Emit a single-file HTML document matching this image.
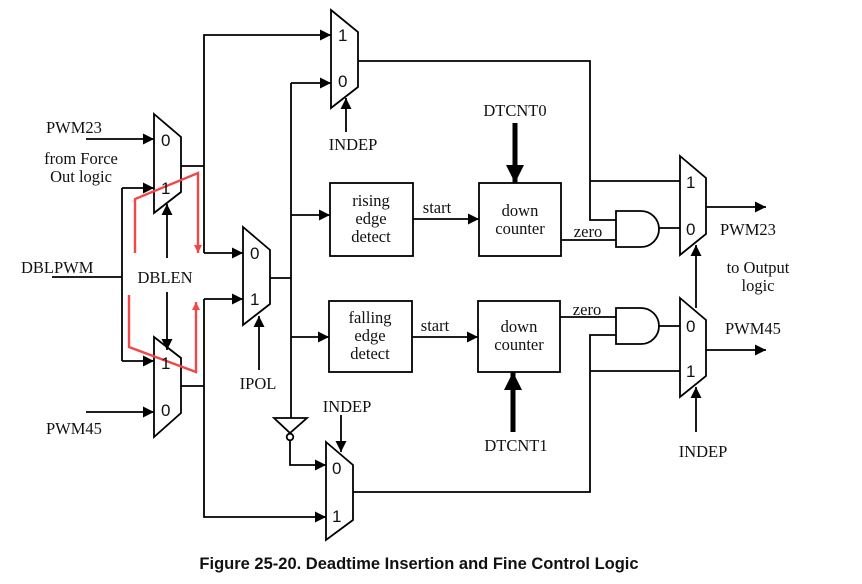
<!DOCTYPE html>
<html><head><style>
html,body{margin:0;padding:0;background:#fff;}
svg{display:block;}
.s{font-family:"Liberation Serif",serif;font-size:16.5px;fill:#111;}
.n{font-family:"Liberation Sans",sans-serif;font-size:17px;fill:#111;}
</style></head><body>
<svg width="862" height="584" viewBox="0 0 862 584" xmlns="http://www.w3.org/2000/svg">
<defs>
<marker id="a" viewBox="0 0 10 10" refX="10" refY="5" markerWidth="16" markerHeight="11" markerUnits="userSpaceOnUse" orient="auto"><path d="M0,0L10,5L0,10z" fill="#000"/></marker>
<marker id="b" viewBox="0 0 10 10" refX="10" refY="5" markerWidth="24" markerHeight="18" markerUnits="userSpaceOnUse" orient="auto"><path d="M0,0L10,5L0,10z" fill="#000"/></marker>
<marker id="r" viewBox="0 0 10 10" refX="10" refY="5" markerWidth="10" markerHeight="8" markerUnits="userSpaceOnUse" orient="auto"><path d="M0,0L10,5L0,10z" fill="#f04848"/></marker>
</defs>
<g stroke="#000" stroke-width="1.8" fill="none">
<polygon points="154,114 181,137 181,192 154,213" fill="#fff"/>
<polygon points="154,337 181,358 181,413 154,437" fill="#fff"/>
<polygon points="243,227 270,250 270,304 243,325" fill="#fff"/>
<polygon points="331,10 358,32 358,87 331,108" fill="#fff"/>
<polygon points="680,156 706,178 706,234 680,255" fill="#fff"/>
<polygon points="680,298 706,320 706,376 680,397" fill="#fff"/>
<polygon points="326,442 353,465 353,520 326,540" fill="#fff"/>
<line x1="86" y1="139" x2="154" y2="139" marker-end="url(#a)"/>
<line x1="86" y1="412" x2="154" y2="412" marker-end="url(#a)"/>
<line x1="52" y1="277" x2="122" y2="277"/>
<polyline points="122,188 122,361"/>
<line x1="122" y1="188" x2="154" y2="188" marker-end="url(#a)"/>
<line x1="122" y1="361" x2="154" y2="361" marker-end="url(#a)"/>
<line x1="167" y1="258" x2="167" y2="204" marker-end="url(#a)"/>
<line x1="167" y1="292" x2="167" y2="350" marker-end="url(#a)"/>
<polyline points="181,166 204,166"/>
<polyline points="204,253 204,35 331,35" marker-end="url(#a)"/>
<polyline points="204,253 243,253" marker-end="url(#a)"/>
<polyline points="181,386 204,386"/>
<polyline points="204,299 204,517 326,517" marker-end="url(#a)"/>
<polyline points="204,299 243,299" marker-end="url(#a)"/>
<line x1="259" y1="370" x2="259" y2="316" marker-end="url(#a)"/>
<polyline points="270,278 291,278"/>
<polyline points="291,83 291,418"/>
<line x1="291" y1="83" x2="331" y2="83" marker-end="url(#a)"/>
<line x1="291" y1="215" x2="330" y2="215" marker-end="url(#a)"/>
<line x1="291" y1="337" x2="329" y2="337" marker-end="url(#a)"/>
<line x1="346" y1="132" x2="346" y2="98" marker-end="url(#a)"/>
<polygon points="274,418 307,418 290,433" fill="#fff"/>
<circle cx="290" cy="437" r="3.3" fill="#fff"/>
<polyline points="290,441 290,465 326,465" marker-end="url(#a)"/>
<line x1="341" y1="415" x2="341" y2="452" marker-end="url(#a)"/>
<rect x="330" y="183" width="83" height="73"/>
<rect x="479" y="183" width="82" height="73"/>
<rect x="329" y="301" width="83" height="71"/>
<rect x="478" y="301" width="82" height="71"/>
<line x1="413" y1="219" x2="479" y2="219" marker-end="url(#a)"/>
<line x1="412" y1="337" x2="478" y2="337" marker-end="url(#a)"/>
<line x1="515" y1="123" x2="515" y2="183" stroke-width="5" marker-end="url(#b)"/>
<line x1="513" y1="432" x2="513" y2="372" stroke-width="5" marker-end="url(#b)"/>
<polyline points="358,61 590,61 590,220 616,220"/>
<line x1="590" y1="181" x2="680" y2="181"/>
<line x1="561" y1="240" x2="616" y2="240"/>
<path d="M616,211 L641,211 A18,18 0 0 1 641,247 L616,247 Z" fill="#fff"/>
<path d="M616,308 L641,308 A18,18 0 0 1 641,344 L616,344 Z" fill="#fff"/>
<line x1="659" y1="228" x2="680" y2="228"/>
<line x1="658" y1="326" x2="680" y2="326"/>
<line x1="560" y1="317" x2="616" y2="317"/>
<polyline points="353,492 590,492 590,335 616,335"/>
<line x1="590" y1="371" x2="680" y2="371"/>
<line x1="706" y1="207" x2="766" y2="207" marker-end="url(#a)"/>
<line x1="706" y1="350" x2="766" y2="350" marker-end="url(#a)"/>
<line x1="696" y1="308" x2="696" y2="245" marker-end="url(#a)"/>
<line x1="696" y1="432" x2="696" y2="387" marker-end="url(#a)"/>
</g>
<g stroke="#f04848" stroke-width="2.4" fill="none">
<polyline points="135,253 135,199 198,173 198,253" marker-end="url(#r)"/>
<polyline points="129,295 129,347 196,372 196,302" marker-end="url(#r)"/>
</g>
<g class="n">
<text x="161" y="146">0</text><text x="161" y="194">1</text>
<text x="161" y="369">1</text><text x="161" y="416">0</text>
<text x="250" y="259">0</text><text x="250" y="305">1</text>
<text x="338" y="41">1</text><text x="338" y="87">0</text>
<text x="686" y="188">1</text><text x="686" y="235">0</text>
<text x="686" y="332">0</text><text x="686" y="377">1</text>
<text x="332" y="474">0</text><text x="332" y="522">1</text>
</g>
<g class="s">
<text x="46" y="133">PWM23</text>
<text x="81" y="164" text-anchor="middle">from Force</text>
<text x="81" y="182" text-anchor="middle">Out logic</text>
<text x="21" y="273">DBLPWM</text>
<text x="165" y="283" text-anchor="middle">DBLEN</text>
<text x="46" y="434">PWM45</text>
<text x="258" y="389" text-anchor="middle">IPOL</text>
<text x="353" y="150" text-anchor="middle">INDEP</text>
<text x="347" y="412" text-anchor="middle">INDEP</text>
<text x="703" y="457" text-anchor="middle">INDEP</text>
<text x="515" y="116" text-anchor="middle">DTCNT0</text>
<text x="516" y="451" text-anchor="middle">DTCNT1</text>
<text x="371" y="206" text-anchor="middle">rising</text>
<text x="371" y="224" text-anchor="middle">edge</text>
<text x="371" y="242" text-anchor="middle">detect</text>
<text x="370" y="323" text-anchor="middle">falling</text>
<text x="370" y="341" text-anchor="middle">edge</text>
<text x="370" y="359" text-anchor="middle">detect</text>
<text x="520" y="216" text-anchor="middle">down</text>
<text x="520" y="234" text-anchor="middle">counter</text>
<text x="519" y="332" text-anchor="middle">down</text>
<text x="519" y="350" text-anchor="middle">counter</text>
<text x="437" y="213" text-anchor="middle">start</text>
<text x="435" y="331" text-anchor="middle">start</text>
<text x="588" y="237" text-anchor="middle">zero</text>
<text x="587" y="315" text-anchor="middle">zero</text>
<text x="720" y="235">PWM23</text>
<text x="725" y="334">PWM45</text>
<text x="758" y="273" text-anchor="middle">to Output</text>
<text x="758" y="291" text-anchor="middle">logic</text>
</g>
<text x="419" y="569" text-anchor="middle" style="font-family:'Liberation Sans',sans-serif;font-size:16.5px;font-weight:bold;fill:#111">Figure 25-20. Deadtime Insertion and Fine Control Logic</text>
</svg>
</body></html>
